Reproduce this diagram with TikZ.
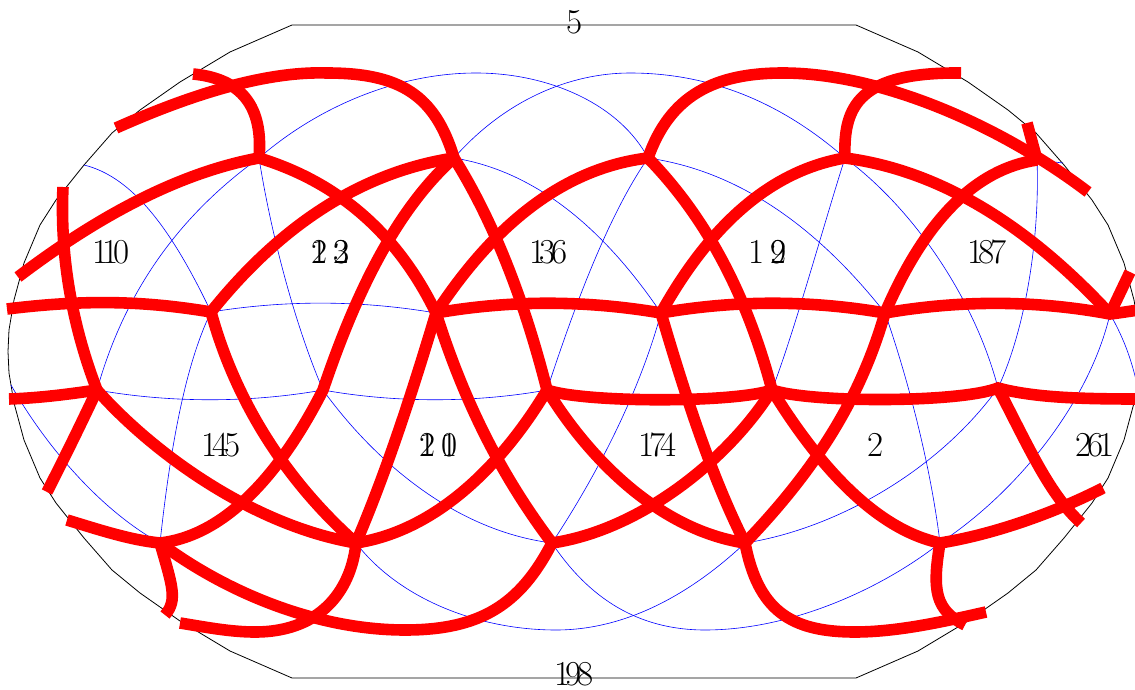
\documentclass[tikz,border=0pt]{standalone}
\usepackage{tikz}
\usetikzlibrary{calc}
\tikzset{
  frameline/.style={draw=black, line width=0.8pt},
  gridline/.style={draw=blue, line width=0.6pt},
  cutline/.style={draw=red, line width=11.6pt, line join=miter},
  maplabel/.style={anchor=west, inner sep=0pt, font=\fontsize{35}{35}\selectfont}
}
\newcommand{\dg}[2]{\makebox[#1pt][l]{#2}}
% arc from #1 through #2 to #3
\newcommand{\arcvia}[3]{(#1) .. controls ($(#2)!-.3333!(#3)$) and ($(#2)!-.3333!(#1)$) .. (#3)}
\begin{document}
\begin{tikzpicture}[x=1pt,y=-1pt]
  \useasboundingbox (0,0) rectangle (1135,690);
  \clip (0,0) rectangle (1135,690);
  \coordinate (t1) at (259,158);
  \coordinate (t2) at (454,158);
  \coordinate (t3) at (648,158);
  \coordinate (t4) at (845,158);
  \coordinate (t5) at (1037,160);
  \coordinate (m1) at (211,312);
  \coordinate (m2) at (436,313);
  \coordinate (m3) at (661,313);
  \coordinate (m4) at (885,313);
  \coordinate (m5) at (1110,314);
  \coordinate (r1) at (97,390);
  \coordinate (r2) at (323,390);
  \coordinate (r3) at (547,390);
  \coordinate (r4) at (772,390);
  \coordinate (r5) at (998,388);
  \coordinate (b1) at (160,543);
  \coordinate (b2) at (356,543);
  \coordinate (b3) at (552,543);
  \coordinate (b4) at (745,543);
  \coordinate (b5) at (940,543);

  \foreach \sx/\sy in {1/1,-1/1,1/-1,-1/-1}{
    \begin{scope}[shift={(574,351.5)},xscale=\sx,yscale=\sy]
      \draw[frameline] (0,-326.5) -- (-282,-326.5) -- (-344,-299.5) -- (-394,-269.5)
        -- (-434,-241.5) -- (-462,-218.5) -- (-490,-186.5) -- (-518,-151.5)
        -- (-534,-126.5) -- (-550,-88.5) -- (-560,-51.5) -- (-565,-21.5) -- (-566,0);
    \end{scope}}

  \draw[gridline] (t1) .. controls (320,105) and (400,73) .. (476,73)
    .. controls (550,73) and (620,105) .. (t3);
  \draw[gridline] (t2) .. controls (505,100) and (570,73) .. (630,73)
    .. controls (720,73) and (790,110) .. (t4);
  \draw[gridline] (84,165) .. controls (133,177) and (172,230) .. (m1);
  \draw[gridline] (t1) .. controls (180,215) and (125,290) .. (r1);
  \draw[gridline] (t1) .. controls (272,240) and (297,330) .. (r2);
  \draw[gridline] (m1) .. controls (285,300) and (360,300) .. (m2);
  \draw[gridline] \arcvia{t2}{563,206}{m3};
  \draw[gridline] \arcvia{t3}{772,206}{m4};
  \draw[gridline] (t4) .. controls (915,210) and (975,300) .. (r5);
  \draw[gridline] (t5) .. controls (1040,240) and (1025,330) .. (r5);
  \draw[gridline] (t5) -- (1063,163);
  \draw[gridline] (m5) .. controls (1090,400) and (1020,490) .. (b5);
  \draw[gridline] (m5) .. controls (1122,335) and (1130,355) .. (1136,380);
  \draw[gridline] (m3) .. controls (640,390) and (600,470) .. (b3);
  \draw[gridline] (t3) .. controls (605,220) and (570,320) .. (r3);
  \draw[gridline] (t4) .. controls (825,220) and (795,330) .. (r4);
  \draw[gridline] (m4) .. controls (905,370) and (930,460) .. (b5);
  \draw[gridline] (m1) .. controls (185,365) and (170,450) .. (b1);
  \draw[gridline] (r2) .. controls (370,455) and (450,530) .. (b3);
  \draw[gridline] (11,385) .. controls (45,445) and (100,510) .. (b1);
  \draw[gridline] (b2) .. controls (400,600) and (480,630) .. (556,630)
    .. controls (630,630) and (695,590) .. (b4);
  \draw[gridline] (b3) .. controls (590,600) and (640,630) .. (705,630)
    .. controls (790,630) and (880,590) .. (b5);
  \draw[gridline] (r1) .. controls (170,403) and (250,403) .. (r2);
  \draw[gridline] (r2) .. controls (395,403) and (475,403) .. (r3);
  \draw[gridline] (b4) .. controls (830,530) and (935,475) .. (r5);

  \draw[cutline] (116,128) .. controls (190,95) and (265,71) .. (327,73)
    .. controls (400,73) and (435,95) .. (t2);
  \draw[cutline] (193,74) .. controls (235,78) and (264,100) .. (t1);
  \draw[cutline] \arcvia{t1}{143,198}{18,277};
  \draw[cutline] \arcvia{t1}{363,215}{m2};
  \draw[cutline] \arcvia{t2}{325,207}{m1};
  \draw[cutline] (t2) .. controls (390,215) and (350,310) .. (r2)
    .. controls (285,465) and (230,535) .. (b1);
  \draw[cutline] \arcvia{t2}{506,262}{r3};
  \draw[cutline] \arcvia{t3}{535,204}{m2};
  \draw[cutline] (t3) .. controls (670,95) and (715,73) .. (783,73)
    .. controls (880,73) and (1000,125) .. (1088,192);
  \draw[cutline] (t4) .. controls (843,105) and (860,72) .. (961,73);
  \draw[cutline] \arcvia{t3}{722,260}{r4};
  \draw[cutline] \arcvia{t4}{745,206}{m3};
  \draw[cutline] \arcvia{t4}{980,206}{m5};
  \draw[cutline] \arcvia{t5}{953,205}{m4};
  \draw[cutline] (1027,123) -- (t5);
  \draw[cutline] (m5) -- (1130,272);
  \draw[cutline] (63,187) .. controls (60,250) and (70,320) .. (r1)
    .. controls (150,450) and (250,525) .. (b2);
  \draw[cutline] (7,309) .. controls (80,300) and (140,300) .. (m1);
  \draw[cutline] (m1) .. controls (235,400) and (285,480) .. (b2);
  \draw[cutline] (m2) .. controls (510,300) and (585,300) .. (m3)
    .. controls (735,300) and (810,300) .. (m4)
    .. controls (960,300) and (1035,300) .. (m5)
    .. controls (1120,313) and (1130,311) .. (1140,310);
  \draw[cutline] (m2) .. controls (410,400) and (385,475) .. (b2);
  \draw[cutline] (m2) .. controls (462,395) and (497,470) .. (b3);
  \draw[cutline] (m3) .. controls (685,395) and (712,478) .. (b4);
  \draw[cutline] (m4) .. controls (860,400) and (815,470) .. (b4);
  \draw[cutline] (9,399) .. controls (40,398) and (70,394) .. (r1);
  \draw[cutline] \arcvia{r1}{72,442}{47,492};
  \draw[cutline] (r3) .. controls (505,460) and (440,530) .. (b2);
  \draw[cutline] (r3) .. controls (585,403) and (735,403) .. (r4)
    .. controls (810,403) and (960,403) .. (r5)
    .. controls (1035,398) and (1085,399) .. (1140,399);
  \draw[cutline] (r3) .. controls (590,460) and (660,530) .. (b4);
  \draw[cutline] (r4) .. controls (728,460) and (640,530) .. (b3);
  \draw[cutline] (r4) .. controls (812,455) and (870,528) .. (b5);
  \draw[cutline] (r5) .. controls (1030,450) and (1050,495) .. (1081,523);
  \draw[cutline] (b5) .. controls (990,535) and (1050,515) .. (1103,488);
  \draw[cutline] (b5) .. controls (932,590) and (935,610) .. (965,625);
  \draw[cutline] (b4) .. controls (758,610) and (790,632) .. (855,632)
    .. controls (900,632) and (950,620) .. (986,612);
  \draw[cutline] (b1) .. controls (172,585) and (178,600) .. (165,615);
  \draw[cutline] (67,520) .. controls (100,530) and (130,540) .. (b1);
  \draw[cutline] (b1) .. controls (230,595) and (320,630) .. (405,630)
    .. controls (480,630) and (520,605) .. (b3);
  \draw[cutline] (b2) .. controls (352,585) and (325,632) .. (255,632)
    .. controls (230,632) and (205,627) .. (180,623);

  \node[maplabel] (lab110) at (92,252) {\dg{10}{1}\dg{11}{1}0};
  \node[maplabel] (lab123) at (311,252) {\dg{0}{1}\dg{22}{2}\dg{0}{2}3};
  \node[maplabel] (lab136) at (529,252) {\dg{10}{1}\dg{12}{3}6};
  \node[maplabel] (lab192) at (748,252) {\dg{22}{1}\dg{0}{9}2};
  \node[maplabel] (lab187) at (967,252) {\dg{11}{1}\dg{12}{8}7};
  \node[maplabel] (lab145) at (201,445) {\dg{11}{1}\dg{12}{4}5};
  \node[maplabel] (lab210) at (419,445) {\dg{0}{2}\dg{22}{1}\dg{0}{1}0};
  \node[maplabel] (lab174) at (638,445) {\dg{11}{1}\dg{11}{7}4};
  \node[maplabel] (lab2) at (867,445) {2};
  \node[maplabel] (lab261) at (1075,445) {\dg{12}{2}\dg{11}{6}1};
  \node[maplabel] (lab5) at (566,22) {5};
  \node[maplabel] (lab198) at (554,674) {\dg{11}{1}\dg{12}{9}8};
\end{tikzpicture}
\end{document}
